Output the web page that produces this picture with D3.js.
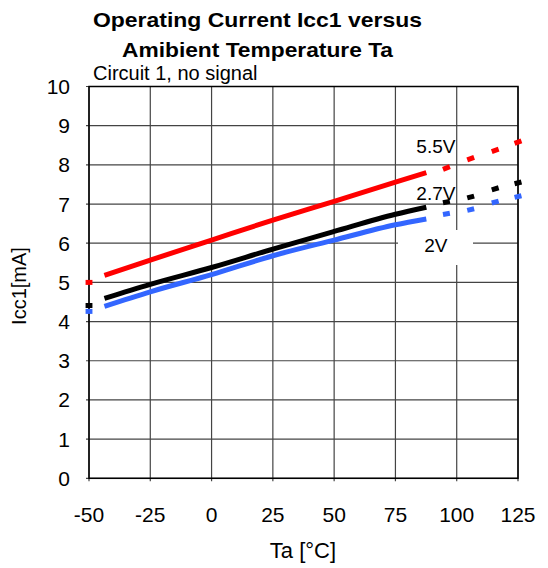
<!DOCTYPE html>
<html><head><meta charset="utf-8">
<script src="https://cdn.jsdelivr.net/npm/d3@7"></script>
<style>
body{margin:0;background:#fff;}
text{font-family:"Liberation Sans",Arial,sans-serif;fill:#000;}
</style></head>
<body><svg id="c" width="548" height="568"></svg>
<script>
// ---- data ----
const xTicks = [-50,-25,0,25,50,75,100,125];
const yTicks = [0,1,2,3,4,5,6,7,8,9,10];
const seriesNames = ["5.5V","2.7V","2V"];
const seriesColors = ["#ff0000","#000000","#3366ff"];
// measured (solid) part
const solidT = [-43.7,-25,0,25,50,75,87.6];
const solid55 = [5.18,5.57,6.08,6.59,7.07,7.56,7.80];
const solid27 = [4.59,4.95,5.38,5.85,6.30,6.74,6.92];
const solid20 = [4.39,4.76,5.20,5.68,6.08,6.47,6.62];
// extrapolated (dotted) part
const dotT = [-50,95.8,105.7,115.7,125];
const dot55 = [5.00,7.92,8.16,8.37,8.58];
const dot27 = [4.41,7.05,7.18,7.39,7.54];
const dot20 = [4.26,6.75,6.86,7.05,7.19];
const labelT = [91.5,91.5,91.5];
const labelV = [8.35,7.15,6.0];

const solids=[solid55,solid27,solid20], dots=[dot55,dot27,dot20];

const svg=d3.select("#c");
const L=89,R=518,T=86.5,B=478.3;
const x=d3.scaleLinear().domain([-50,125]).range([L,R]);
const y=d3.scaleLinear().domain([0,10]).range([B,T]);

// grid
const g=svg.append("g");
g.selectAll(".vg").data(xTicks).join("line")
 .attr("x1",d=>x(d)).attr("x2",d=>x(d)).attr("y1",T).attr("y2",B+3)
 .attr("stroke","#444").attr("stroke-width",1.2);
g.selectAll(".hg").data(yTicks).join("line")
 .attr("x1",L-3).attr("x2",R).attr("y1",d=>y(d)).attr("y2",d=>y(d))
 .attr("stroke","#444").attr("stroke-width",1.2);
svg.append("rect").attr("x",L).attr("y",T).attr("width",R-L).attr("height",B-T)
 .attr("fill","none").attr("stroke","#000").attr("stroke-width",1.5);

// tick labels
svg.selectAll(".xt").data(xTicks).join("text")
 .attr("x",d=>x(d)).attr("y",522).attr("text-anchor","middle")
 .attr("font-size",21).text(d=>d);
svg.selectAll(".yt").data(yTicks).join("text")
 .attr("x",70).attr("y",d=>y(d)+7.5).attr("text-anchor","end")
 .attr("font-size",21).text(d=>d);

// lines
const line=d3.line().x(d=>x(d[0])).y(d=>y(d[1])).curve(d3.curveMonotoneX);
solids.forEach((s,i)=>{
  svg.append("path").attr("d",line(solidT.map((t,j)=>[t,s[j]])))
   .attr("fill","none").attr("stroke",seriesColors[i]).attr("stroke-width",5);
});
const seg=d3.line().x(d=>x(d[0])).y(d=>y(d[1]));
dots.forEach((s,i)=>{
  dotT.forEach((t,j)=>{
    let slope = j===0?0:(s[Math.min(j+1,4)]-s[Math.max(j-1,1)])/((dotT[Math.min(j+1,4)]-dotT[Math.max(j-1,1)])||1);
    const dt=1.4;
    svg.append("path").attr("d",seg([[t-dt,s[j]-slope*dt],[t+dt,s[j]+slope*dt]]))
     .attr("stroke",seriesColors[i]).attr("stroke-width",5).attr("fill","none");
  });
});

// labels
svg.append("rect").attr("x",398).attr("y",230).attr("width",75).attr("height",35).attr("fill","#fff");
const labelBase=[153,200,252];
seriesNames.forEach((n,i)=>{
  svg.append("text").attr("x",x(labelT[i])).attr("y",labelBase[i])
   .attr("text-anchor","middle").attr("font-size",19).text(n);
});

// titles
svg.append("text").attr("x",257.5).attr("y",27).attr("text-anchor","middle")
 .attr("font-size",21).attr("font-weight","bold")
 .attr("textLength",329).attr("lengthAdjust","spacingAndGlyphs").text("Operating Current Icc1 versus");
svg.append("text").attr("x",257.5).attr("y",57).attr("text-anchor","middle")
 .attr("font-size",21).attr("font-weight","bold")
 .attr("textLength",271).attr("lengthAdjust","spacingAndGlyphs").text("Amibient Temperature Ta");
svg.append("text").attr("x",93).attr("y",80).attr("font-size",20).text("Circuit 1, no signal");
svg.append("text").attr("x",303).attr("y",558).attr("text-anchor","middle")
 .attr("font-size",22).text("Ta [°C]");
svg.append("text").attr("transform","translate(26,286) rotate(-90)")
 .attr("text-anchor","middle").attr("font-size",20).text("Icc1[mA]");
</script></body></html>
